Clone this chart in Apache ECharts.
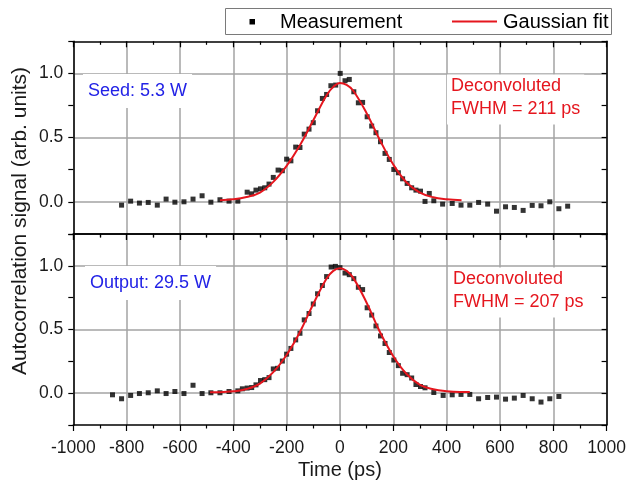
<!DOCTYPE html>
<html>
<head>
<meta charset="utf-8">
<script src="https://cdn.jsdelivr.net/npm/echarts@6/dist/echarts.min.js"></script>
<style>
  html, body { margin: 0; padding: 0; background: #fff; }
  #chart { width: 630px; height: 481px; }
</style>
</head>
<body>
<div id="chart"></div>
<script>
// top panel (seed) - measured points
const seedX = [-819, -785, -752, -719, -685, -652, -619, -585, -551, -517, -484, -450, -416, -383,
  -348, -331, -315, -298, -282, -266, -250, -232, -216, -200, -184, -166, -150, -134, -116, -100,
  -84, -66, -50, -34, -16, 1, 19, 35, 52, 69, 85, 102, 119, 135, 152, 169, 185, 202, 219, 235,
  252, 269, 285, 302, 319, 335, 352, 385, 421, 454, 487, 520, 554, 587, 621, 654, 687, 721, 754,
  787, 821, 854];
const seedY = [-0.026, 0.005, -0.010, -0.005, -0.026, 0.021, -0.003, 0.000, 0.021, 0.047, -0.003, 0.016, 0.005, 0.005,
  0.075, 0.062, 0.091, 0.101, 0.109, 0.138, 0.190, 0.247, 0.242, 0.332, 0.319, 0.426, 0.423, 0.527, 0.566, 0.616,
  0.709, 0.805, 0.836, 0.904, 0.909, 1.000, 0.943, 0.953, 0.857, 0.771, 0.774, 0.662, 0.590, 0.538, 0.468, 0.377, 0.330, 0.252, 0.226, 0.179,
  0.143, 0.109, 0.091, 0.083, 0.003, 0.065, 0.008, -0.018, -0.013, -0.026, -0.026, -0.005, -0.018, -0.073, -0.039, -0.044, -0.067, -0.028, -0.031,
  0.000, -0.054, -0.034];
// top panel gaussian fit
const seedFitX = [-450, -400, -350, -300, -250, -200, -150, -100, -50, -25, 0, 25, 50, 100, 150, 200, 250, 300, 350, 400, 456];
const seedFitY = [0.012, 0.02, 0.038, 0.072, 0.155, 0.28, 0.44, 0.635, 0.83, 0.895, 0.925, 0.91, 0.865, 0.69, 0.48, 0.29, 0.15, 0.072, 0.035, 0.02, 0.012];

// bottom panel (output) - measured points
const outX = [-853, -819, -785, -752, -719, -685, -652, -619, -585, -551, -517, -484, -450, -416, -383,
  -366, -348, -331, -315, -298, -282, -266, -250, -234, -216, -200, -184, -166, -150, -134, -116, -100,
  -84, -66, -50, -33, -17, 0, 19, 35, 52, 69, 85, 102, 119, 135, 152, 169, 185, 202, 219, 235,
  252, 269, 285, 302, 319, 352, 387, 421, 454, 487, 520, 554, 587, 621, 654, 687, 721, 754, 787, 821];
const outY = [-0.013, -0.044, -0.018, -0.003, 0.003, 0.018, -0.003, 0.013, -0.003, 0.062, -0.003, 0.003, 0.003, 0.013, 0.018,
  0.034, 0.040, 0.044, 0.065, 0.099, 0.106, 0.122, 0.190, 0.195, 0.252, 0.306, 0.351, 0.418, 0.470, 0.575, 0.625, 0.700,
  0.780, 0.845, 0.915, 0.990, 0.995, 0.985, 0.943, 0.930, 0.899, 0.831, 0.813, 0.670, 0.613, 0.527, 0.449, 0.390, 0.319, 0.260, 0.216, 0.156,
  0.145, 0.119, 0.068, 0.052, 0.042, 0.005, -0.018, -0.013, -0.010, -0.010, -0.044, -0.034, -0.031, -0.047, -0.039, -0.018, -0.044, -0.070, -0.044, -0.026];
const outFitX = [-487, -450, -400, -350, -300, -250, -200, -150, -100, -50, -25, 0, 25, 50, 100, 150, 200, 250, 300, 350, 400, 450, 487];
const outFitY = [0.008, 0.008, 0.014, 0.032, 0.075, 0.165, 0.30, 0.48, 0.70, 0.90, 0.96, 0.98, 0.96, 0.905, 0.71, 0.48, 0.29, 0.15, 0.065, 0.03, 0.015, 0.01, 0.01];

const yTickLabels = ['0.0', '0.5', '1.0'];

const FONT = 'Liberation Sans, Arial, sans-serif';
const RED = '#e5161e';
const BLUE = '#2222e6';
const GRID_GRAY = '#a3a3a3';

function zip(xs, ys) {
  return xs.map((x, i) => [x, ys[i]]);
}

function xAxisCfg(gridIndex, position, showLabels, inside, split) {
  return {
    type: 'value', gridIndex: gridIndex, position: position,
    min: -1000, max: 1000, interval: 200,
    axisLine: { show: true, onZero: false, lineStyle: { color: '#000', width: 1.5 } },
    axisTick: { show: true, inside: inside, length: 6, lineStyle: { color: '#000', width: 1.2 } },
    minorTick: { show: true, splitNumber: 2, length: 3.5, lineStyle: { color: '#000', width: 1.2 } },
    axisLabel: {
      show: showLabels, color: '#1a1a1a', fontFamily: FONT, fontSize: 17.5, margin: 14,
      formatter: function (v) { return String(v); }
    },
    splitLine: { show: split, lineStyle: { color: GRID_GRAY, width: 1.5 } }
  };
}

function yAxisCfg(gridIndex, position, showLabels, inside, split) {
  return {
    type: 'value', gridIndex: gridIndex, position: position,
    min: -0.25, max: 1.25, interval: 0.25,
    axisLine: { show: true, onZero: false, lineStyle: { color: '#000', width: 1.5 } },
    axisTick: { show: true, inside: inside, length: 5, lineStyle: { color: '#000', width: 1.2 } },
    axisLabel: {
      show: showLabels, color: '#1a1a1a', fontFamily: FONT, fontSize: 17.5, margin: 10,
      formatter: function (v) {
        const s = v.toFixed(1);
        return (Math.abs(v * 2 - Math.round(v * 2)) < 1e-6 && yTickLabels.indexOf(s) >= 0) ? s : '';
      }
    },
    splitLine: { show: split, lineStyle: { color: ['rgba(0,0,0,0)', GRID_GRAY], width: 1.5 } }
  };
}

const chart = echarts.init(document.getElementById('chart'));
chart.setOption({
  animation: false,
  backgroundColor: '#fff',
  grid: [
    { left: 73.3, width: 533.3, top: 41.3, height: 192.6 },
    { left: 73.3, width: 533.3, top: 233.9, height: 192.5 }
  ],
  xAxis: [
    xAxisCfg(0, 'bottom', false, false, true),
    xAxisCfg(0, 'top', false, true, false),
    Object.assign(xAxisCfg(1, 'bottom', true, false, true), {
      name: 'Time (ps)', nameLocation: 'middle', nameGap: 35,
      nameTextStyle: { color: '#1a1a1a', fontFamily: FONT, fontSize: 20 }
    }),
    xAxisCfg(1, 'top', false, true, false)
  ],
  yAxis: [
    yAxisCfg(0, 'left', true, false, true),
    yAxisCfg(0, 'right', false, true, false),
    yAxisCfg(1, 'left', true, false, true),
    yAxisCfg(1, 'right', false, true, false)
  ],
  series: [
    {
      name: 'Measurement', type: 'scatter', xAxisIndex: 0, yAxisIndex: 0,
      symbol: 'rect', symbolSize: 5, itemStyle: { color: '#000' },
      data: zip(seedX, seedY)
    },
    {
      name: 'Gaussian fit', type: 'line', xAxisIndex: 0, yAxisIndex: 0,
      smooth: 0.4, showSymbol: false, symbol: 'none',
      lineStyle: { color: RED, width: 2 },
      data: zip(seedFitX, seedFitY)
    },
    {
      name: 'Measurement', type: 'scatter', xAxisIndex: 2, yAxisIndex: 2,
      symbol: 'rect', symbolSize: 5, itemStyle: { color: '#000' },
      data: zip(outX, outY)
    },
    {
      name: 'Gaussian fit', type: 'line', xAxisIndex: 2, yAxisIndex: 2,
      smooth: 0.4, showSymbol: false, symbol: 'none',
      lineStyle: { color: RED, width: 2 },
      data: zip(outFitX, outFitY)
    }
  ],
  graphic: [
    // legend box
    { type: 'rect', shape: { x: 225.5, y: 8.5, width: 386, height: 26 },
      style: { fill: '#fff', stroke: '#7a7a7a', lineWidth: 1 } },
    { type: 'rect', shape: { x: 249.5, y: 19, width: 5.5, height: 5.5 }, style: { fill: '#000' } },
    { type: 'text', style: { x: 280, y: 22, text: 'Measurement', font: '20px ' + FONT, fill: '#000', verticalAlign: 'middle' } },
    { type: 'line', shape: { x1: 452, y1: 21.5, x2: 497, y2: 21.5 }, style: { stroke: RED, lineWidth: 2 } },
    { type: 'text', style: { x: 503, y: 22, text: 'Gaussian fit', font: '20px ' + FONT, fill: '#000', verticalAlign: 'middle' } },
    // y axis title spanning both panels
    { type: 'text', x: 20, y: 221, rotation: Math.PI / 2,
      style: { x: 0, y: 0, text: 'Autocorrelation signal (arb. units)', font: '21px ' + FONT, fill: '#1a1a1a',
        align: 'center', verticalAlign: 'middle' } },
    // annotations
    { type: 'text', z: 10, style: { x: 83, y: 91, text: 'Seed: 5.3 W', font: '18px ' + FONT, fill: BLUE,
      verticalAlign: 'middle', backgroundColor: '#fff', padding: [8, 5] } },
    { type: 'text', z: 10, style: { x: 447, y: 74.5, text: 'Deconvoluted\nFWHM = 211 ps', font: '18px ' + FONT, fill: RED,
      lineHeight: 23, backgroundColor: '#fff', padding: [0, 4, 4, 4] } },
    { type: 'text', z: 10, style: { x: 85, y: 283, text: 'Output: 29.5 W', font: '18px ' + FONT, fill: BLUE,
      verticalAlign: 'middle', backgroundColor: '#fff', padding: [8, 5] } },
    { type: 'text', z: 10, style: { x: 449, y: 267.5, text: 'Deconvoluted\nFWHM = 207 ps', font: '18px ' + FONT, fill: RED,
      lineHeight: 23, backgroundColor: '#fff', padding: [0, 4, 4, 4] } }
  ]
});
</script>
</body>
</html>
